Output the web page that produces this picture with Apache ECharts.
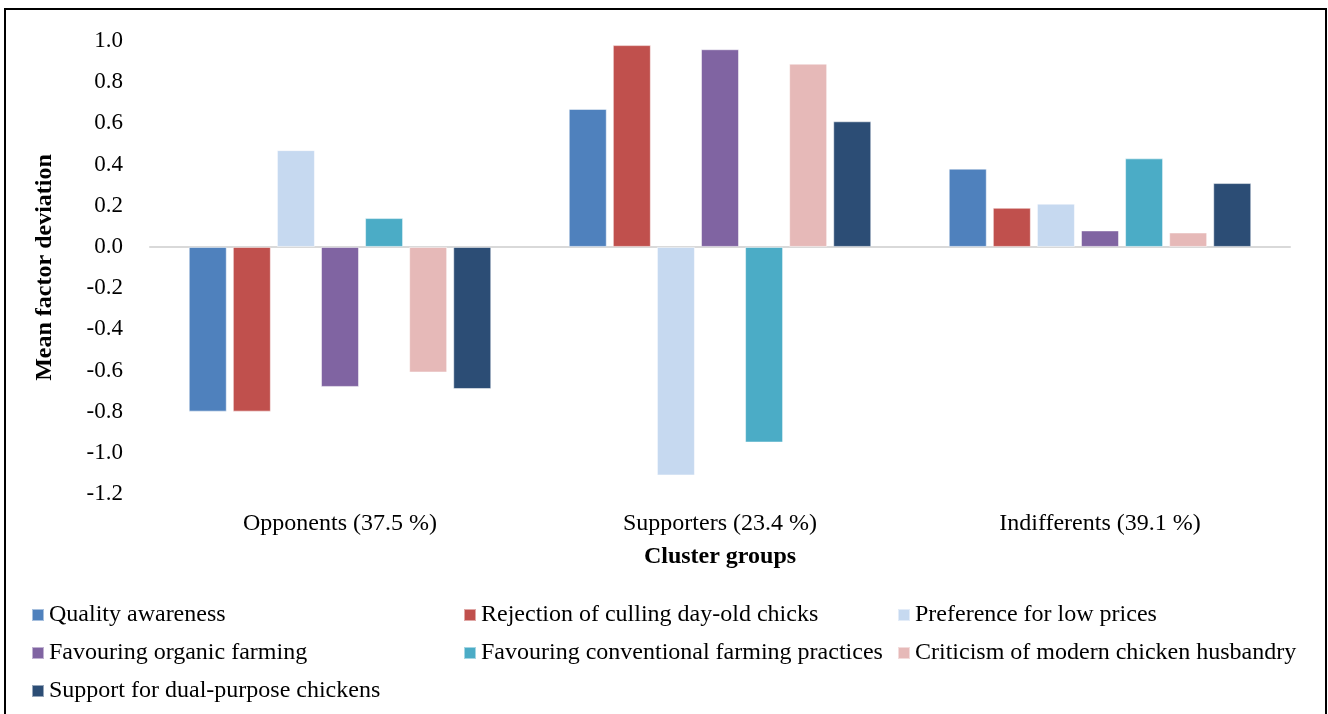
<!DOCTYPE html>
<html>
<head>
<meta charset="utf-8">
<script src="https://cdn.jsdelivr.net/npm/echarts@6/dist/echarts.min.js"></script>
<style>
  html, body { margin: 0; padding: 0; background: #fff; }
  #chart { width: 1328px; height: 714px; }
</style>
</head>
<body>
<div id="chart"></div>
<script>
  const categories = ['Opponents (37.5 %)', 'Supporters (23.4 %)', 'Indifferents (39.1 %)']

  const qualityAwareness = [-0.8, 0.67, 0.38]
  const rejectionCulling = [-0.8, 0.98, 0.19]
  const lowPrices = [0.47, -1.11, 0.21]
  const organicFarming = [-0.68, 0.96, 0.08]
  const conventionalFarming = [0.14, -0.95, 0.43]
  const criticismHusbandry = [-0.61, 0.89, 0.07]
  const dualPurpose = [-0.69, 0.61, 0.31]

  const seriesNames = [
    'Quality awareness',
    'Rejection of culling day-old chicks',
    'Preference for low prices',
    'Favouring organic farming',
    'Favouring conventional farming practices',
    'Criticism of modern chicken husbandry',
    'Support for dual-purpose chickens',
  ]
  const seriesValues = [
    qualityAwareness, rejectionCulling, lowPrices, organicFarming,
    conventionalFarming, criticismHusbandry, dualPurpose,
  ]
  const colors = ['#4F81BD', '#C0504D', '#C6D9F0', '#8064A2', '#4BACC6', '#E6B9B8', '#2C4D75']

  const font = "'Liberation Serif', 'Times New Roman', serif"

  // three legend columns, laid out like the original spreadsheet legend
  const legendBase = {
    orient: 'vertical',
    top: 598,
    itemWidth: 12,
    itemHeight: 12,
    itemGap: 14,
    icon: 'rect',
    textStyle: { fontFamily: font, fontSize: 24, color: '#000' },
    selectedMode: false,
  }

  const chart = echarts.init(document.getElementById('chart'))
  chart.setOption({
    animation: false,
    color: colors,
    grid: { top: 41, left: 150, right: 38, bottom: 220 },
    graphic: [
      {
        type: 'rect',
        shape: { x: 5, y: 9, width: 1321, height: 720 },
        style: { fill: 'none', stroke: '#000', lineWidth: 2 },
      },
    ],
    legend: [
      { ...legendBase, left: 26, data: [seriesNames[0], seriesNames[3], seriesNames[6]] },
      { ...legendBase, left: 458, data: [seriesNames[1], seriesNames[4]] },
      { ...legendBase, left: 892, data: [seriesNames[2], seriesNames[5]] },
    ],
    xAxis: {
      type: 'category',
      data: categories,
      name: 'Cluster groups',
      nameLocation: 'middle',
      nameGap: 51,
      nameTextStyle: { fontFamily: font, fontSize: 24, fontWeight: 'bold', color: '#000' },
      axisTick: { show: false },
      axisLine: { lineStyle: { color: '#D9D9D9', width: 2 } },
      axisLabel: { fontFamily: font, fontSize: 24, color: '#000', margin: 18 },
    },
    yAxis: {
      type: 'value',
      min: -1.2,
      max: 1.0,
      interval: 0.2,
      name: 'Mean factor deviation',
      nameLocation: 'middle',
      nameGap: 93,
      nameTextStyle: { fontFamily: font, fontSize: 24, fontWeight: 'bold', color: '#000' },
      axisLine: { show: false },
      axisTick: { show: false },
      splitLine: { show: false },
      axisLabel: {
        fontFamily: font,
        fontSize: 23,
        color: '#000',
        margin: 27,
        formatter: (v) => v.toFixed(1),
      },
    },
    series: seriesNames.map((name, i) => ({
      name,
      type: 'bar',
      barWidth: 38,
      barGap: '16%',
      data: seriesValues[i],
      itemStyle: { borderColor: 'rgba(255,255,255,0.5)', borderWidth: 1 },
    })),
  })
</script>
</body>
</html>
